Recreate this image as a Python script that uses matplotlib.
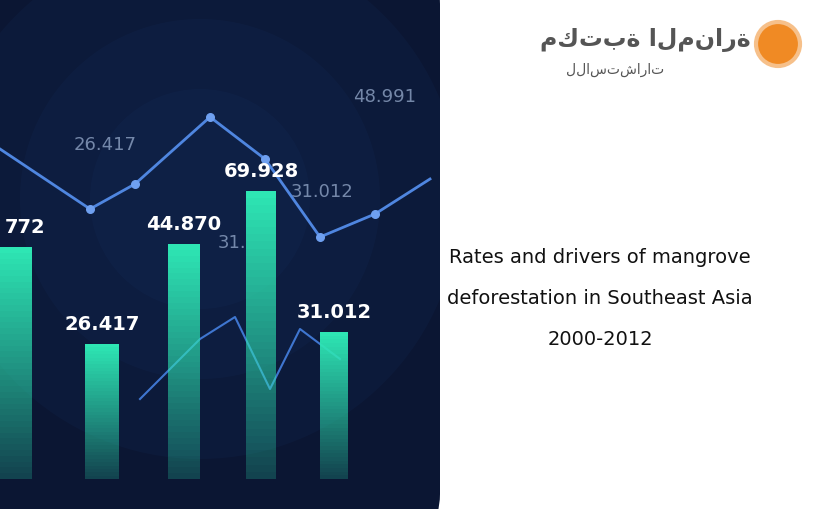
import matplotlib
matplotlib.use("Agg")
import matplotlib.pyplot as plt
import numpy as np
from matplotlib.patches import FancyBboxPatch, Circle

# Decorative bar panel (pixel positions of the picture)
bar_x = [15, 102, 184, 261, 334]
bar_top = [248, 345, 245, 192, 333]
bar_labels = ["772", "26.417", "44.870", "69.928", "31.012"]
bar_w = [34, 34, 32, 30, 28]

line_x = [0, 90, 135, 210, 265, 320, 375, 430]
line_y = [150, 210, 185, 118, 160, 238, 215, 180]
low_x = [140, 200, 235, 270, 300, 340]
low_y = [400, 340, 318, 390, 330, 360]

ghost_labels = [("26.417", 105, 145), ("48.991", 385, 97), ("31.012", 322, 192), ("31.", 232, 243)]

title_lines = ["Rates and drivers of mangrove",
               "deforestation in Southeast Asia",
               "2000-2012"]

fig = plt.figure(figsize=(8.25, 5.1), dpi=100)
ax = fig.add_axes([0, 0, 1, 1])
ax.set_xlim(0, 825)
ax.set_ylim(510, 0)
ax.axis("off")

panel = FancyBboxPatch((-60, -40), 500, 580, boxstyle="round,pad=0,rounding_size=45",
                       facecolor="#0b1633", edgecolor="none")
ax.add_patch(panel)
# subtle glow, clipped to the panel
for r, a in [(260, 0.10), (180, 0.10), (110, 0.10)]:
    c = Circle((200, 200), r, facecolor="#1c3f7a", alpha=a, edgecolor="none")
    ax.add_patch(c)
    c.set_clip_path(panel)

ax.plot(line_x, line_y, color="#4f86e0", lw=2, zorder=3)
ax.scatter(line_x[1:-1], line_y[1:-1], s=30, color="#6fa0f0", zorder=4)
ax.plot(low_x, low_y, color="#3f76d0", lw=1.5, zorder=3)

for x, t, w in zip(bar_x, bar_top, bar_w):
    n = 40
    ys = np.linspace(t, 480, n + 1)
    for i in range(n):
        alpha = 1 - 0.8 * i / n
        ax.fill_between([x - w / 2, x + w / 2], ys[i], ys[i + 1], color="#2ee6b4",
                        alpha=alpha, lw=0, zorder=5)

for x, t, lab in zip(bar_x, bar_top, bar_labels):
    ax.text(x + (10 if lab == "772" else 0), t - 20, lab, color="white", fontsize=14,
            fontweight="bold", ha="center", va="center", zorder=6)

for lab, x, y in ghost_labels:
    ax.text(x, y, lab, color="#8fa3c4", fontsize=13, ha="center", va="center", alpha=0.8, zorder=2)

for i, line in enumerate(title_lines):
    ax.text(600, 258 + i * 41, line, fontsize=14, ha="center", va="center", color="#111111")

# logo
ax.add_patch(Circle((778, 45), 22, facecolor="#f08a24", edgecolor="#f6c08a", lw=3))
ax.text(645, 40, "مكتبة المنارة", fontsize=17, ha="center", va="center", color="#555555",
        fontweight="bold")
ax.text(615, 70, "للاستشارات", fontsize=10, ha="center", va="center", color="#555555")

fig.savefig("out.png", dpi=100)
